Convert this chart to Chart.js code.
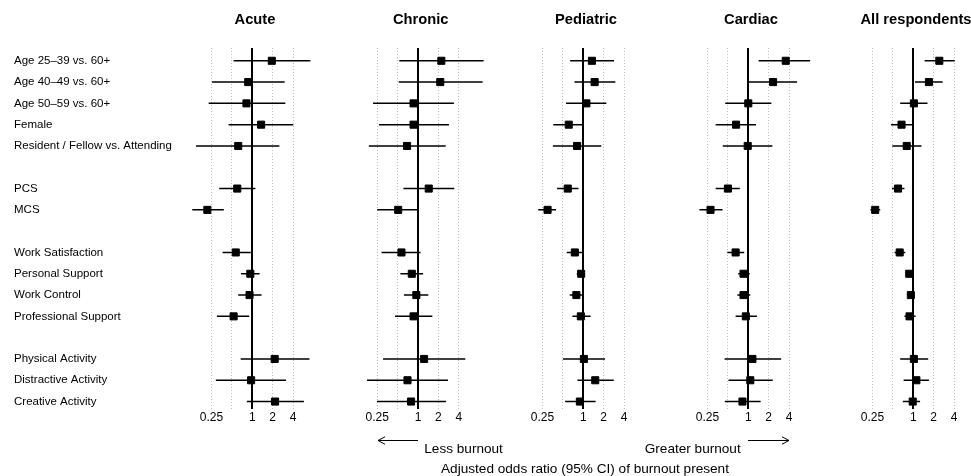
<!DOCTYPE html>
<html>
<head>
<meta charset="utf-8">
<script src="https://cdn.jsdelivr.net/npm/chart.js@4.4.0/dist/chart.umd.min.js"></script>
<style>
body { margin: 0; background: #fff; font-family: "Liberation Sans", Arial, sans-serif; }
#page { position: relative; width: 971px; height: 476px; overflow: hidden; }
.panel { position: absolute; top: 0; height: 476px; }
.note { position: absolute; font-size: 13.6px; line-height: 16px; white-space: nowrap; color: #000; }
#arrows { position: absolute; left: 0; top: 0; }
</style>
</head>
<body>
<div id="page">
  <div class="panel" id="p0"><canvas id="c0"></canvas></div>
  <div class="panel" id="p1"><canvas id="c1"></canvas></div>
  <div class="panel" id="p2"><canvas id="c2"></canvas></div>
  <div class="panel" id="p3"><canvas id="c3"></canvas></div>
  <div class="panel" id="p4"><canvas id="c4"></canvas></div>
  <svg id="arrows" width="971" height="476">
    <g stroke="#000" stroke-width="1" fill="none">
      <line x1="378" y1="440.5" x2="418" y2="440.5"/>
      <polyline points="385,436.8 378,440.5 385,444.2"/>
      <line x1="748" y1="440.5" x2="789" y2="440.5"/>
      <polyline points="782,436.8 789,440.5 782,444.2"/>
    </g>
  </svg>
  <div class="note" style="left:424.3px; top:441px;">Less burnout</div>
  <div class="note" style="right:230.3px; top:441px;">Greater burnout</div>
  <div class="note" style="left:585px; top:460.5px; transform:translateX(-50%);">Adjusted odds ratio (95% CI) of burnout present</div>
</div>

<script>
// rows of the forest plot, empty strings are the gaps between groups
var rowLabels = [
  'Age 25–39 vs. 60+', 'Age 40–49 vs. 60+', 'Age 50–59 vs. 60+', 'Female',
  'Resident / Fellow vs. Attending', '',
  'PCS', 'MCS', '',
  'Work Satisfaction', 'Personal Support', 'Work Control', 'Professional Support', '',
  'Physical Activity', 'Distractive Activity', 'Creative Activity'
];
var panelTitles = ['Acute', 'Chronic', 'Pediatric', 'Cardiac', 'All respondents'];
var xTicks = [0.25, 0.5, 1, 2, 4];

// odds ratio + 95% CI, one value per non-empty row
var acuteOR   = [1.94, 0.87, 0.82, 1.35, 0.62, 0.60, 0.217, 0.57, 0.935, 0.91, 0.53, 2.14, 0.96, 2.17];
var acuteLow  = [0.53, 0.254, 0.227, 0.446, 0.148, 0.325, 0.13, 0.364, 0.68, 0.62, 0.30, 0.675, 0.29, 0.83];
var acuteHigh = [7.2, 3.0, 3.07, 4.02, 2.51, 1.11, 0.38, 0.95, 1.28, 1.37, 0.90, 6.97, 3.14, 5.77];

var chronicOR   = [2.21, 2.13, 0.86, 0.86, 0.69, 1.44, 0.51, 0.57, 0.81, 0.945, 0.86, 1.23, 0.70, 0.79];
var chronicLow  = [0.53, 0.52, 0.217, 0.266, 0.188, 0.61, 0.25, 0.29, 0.55, 0.62, 0.458, 0.305, 0.177, 0.248];
var chronicHigh = [9.3, 8.98, 3.39, 2.86, 2.56, 3.43, 1.03, 1.09, 1.19, 1.42, 1.63, 4.99, 2.77, 2.59];

var pediatricOR   = [1.34, 1.47, 1.11, 0.61, 0.81, 0.59, 0.297, 0.75, 0.93, 0.79, 0.92, 1.02, 1.50, 0.89];
var pediatricLow  = [0.64, 0.74, 0.556, 0.36, 0.356, 0.41, 0.216, 0.57, 0.80, 0.63, 0.69, 0.50, 0.82, 0.54];
var pediatricHigh = [2.84, 2.97, 2.19, 0.99, 1.84, 0.85, 0.395, 0.98, 1.06, 0.99, 1.28, 2.09, 2.81, 1.52];

var cardiacOR   = [3.57, 2.32, 1.0, 0.66, 0.98, 0.50, 0.277, 0.65, 0.85, 0.85, 0.92, 1.15, 1.07, 0.82];
var cardiacLow  = [1.42, 1.02, 0.457, 0.33, 0.42, 0.33, 0.19, 0.49, 0.71, 0.69, 0.65, 0.446, 0.51, 0.45];
var cardiacHigh = [8.18, 5.25, 2.19, 1.30, 2.27, 0.75, 0.417, 0.87, 1.05, 1.07, 1.34, 3.05, 2.29, 1.52];

var allOR   = [2.42, 1.70, 1.02, 0.67, 0.80, 0.595, 0.274, 0.63, 0.87, 0.92, 0.88, 1.02, 1.11, 0.98];
var allLow  = [1.47, 1.06, 0.64, 0.47, 0.49, 0.485, 0.233, 0.53, 0.80, 0.84, 0.74, 0.64, 0.72, 0.70];
var allHigh = [4.09, 2.71, 1.62, 0.98, 1.32, 0.74, 0.325, 0.76, 0.94, 1.0, 1.08, 1.66, 1.70, 1.26];

var panelOR   = [acuteOR, chronicOR, pediatricOR, cardiacOR, allOR];
var panelLow  = [acuteLow, chronicLow, pediatricLow, cardiacLow, allLow];
var panelHigh = [acuteHigh, chronicHigh, pediatricHigh, cardiacHigh, allHigh];

// layout of the panels (pixel of OR = 1, pixels per doubling)
var xMin = 0.125, xMax = 9.6;
var onePos = [252.3, 418, 583.3, 748.3, 913.3];
var perDouble = 20.4;
var labelLeft = 14;
var fontFamily = '"Liberation Sans", Arial, sans-serif';

Chart.defaults.font.family = fontFamily;
Chart.defaults.color = '#000';

var rowPos = [];
rowLabels.forEach(function(l, i) { if (l) rowPos.push(i); });

for (var i = 0; i < 5; i++) {
    var plotW = perDouble * Math.log2(xMax / xMin);
    var L = onePos[i] - perDouble * Math.log2(1 / xMin);
    var divLeft, width, padL, padR;
    // padding kept above 6px, chart.js reserves that much for the point size anyway
    if (i == 0) {
        divLeft = 0;
        width = Math.ceil(L + plotW) + 8;
        padL = labelLeft;
        padR = width - (L + plotW);
    } else {
        divLeft = Math.floor(L) - 8;
        width = Math.ceil(plotW) + 16;
        padL = L - divLeft;
        padR = width - padL - plotW;
    }
    var div = document.getElementById('p' + i);
    div.style.left = divLeft + 'px';
    div.style.width = width + 'px';

    var ci = [], est = [];
    for (var k = 0; k < rowPos.length; k++) {
        ci.push({x: panelLow[i][k], y: rowPos[k]});
        ci.push({x: panelHigh[i][k], y: rowPos[k]});
        ci.push({x: null, y: null});
        est.push({x: panelOR[i][k], y: rowPos[k]});
    }

    var yAxis = {
        type: 'linear',
        reverse: true,
        min: -0.6,
        max: 16.35,
        display: false
    };
    if (i == 0) {
        yAxis.display = true;
        yAxis.afterBuildTicks = function(axis) {
            axis.ticks = rowPos.map(function(v) { return {value: v}; });
        };
        yAxis.afterFit = function(axis) { axis.width = onePos[0] - perDouble * Math.log2(1 / xMin) - labelLeft; };
        yAxis.ticks = {
            autoSkip: false,
            crossAlign: 'far',
            padding: 0,
            color: '#000',
            font: {size: 11.5},
            callback: function(v) { return rowLabels[v]; }
        };
        yAxis.grid = {display: false};
        yAxis.border = {display: false};
    }

    new Chart(document.getElementById('c' + i), {
        type: 'scatter',
        data: {
            datasets: [
            {data: ci, showLine: true, spanGaps: false, borderColor: '#000', borderWidth: 1.5, pointRadius: 0, clip: false},
            {data: est, pointStyle: 'rect', pointRadius: 5, backgroundColor: '#000', borderColor: '#000', borderWidth: 1, clip: false}
            ]
        },
        options: {
            responsive: true,
            maintainAspectRatio: false,
            animation: false,
            events: [],
            layout: {padding: {left: padL, right: padR, top: 0, bottom: 50.6}},
            plugins: {
                legend: {display: false},
                tooltip: {enabled: false},
                title: {
                    display: true,
                    text: panelTitles[i],
                    fullSize: false,
                    color: '#000',
                    font: {size: 14.7, weight: 'bold'},
                    padding: {top: 11.5, bottom: 18.86}
                }
            },
            scales: {
                x: {
                    type: 'logarithmic',
                    min: xMin,
                    max: xMax,
                    afterBuildTicks: function(axis) {
                        axis.ticks = xTicks.map(function(v) { return {value: v}; });
                    },
                    ticks: {
                        autoSkip: false,
                        maxRotation: 0,
                        padding: 1,
                        color: '#000',
                        font: {size: 12},
                        callback: function(v) { return v == 0.5 ? '' : String(v); }
                    },
                    grid: {
                        drawTicks: false,
                        color: function(c) { return c.tick && c.tick.value == 1 ? '#000' : '#bdbdbd'; },
                        lineWidth: function(c) { return c.tick && c.tick.value == 1 ? 2 : 1; }
                    },
                    border: {
                        display: false,
                        dash: function(c) { return c.tick && c.tick.value == 1 ? [] : [1, 2]; }
                    }
                },
                y: yAxis
            }
        }
    });
}
</script>
</body>
</html>
